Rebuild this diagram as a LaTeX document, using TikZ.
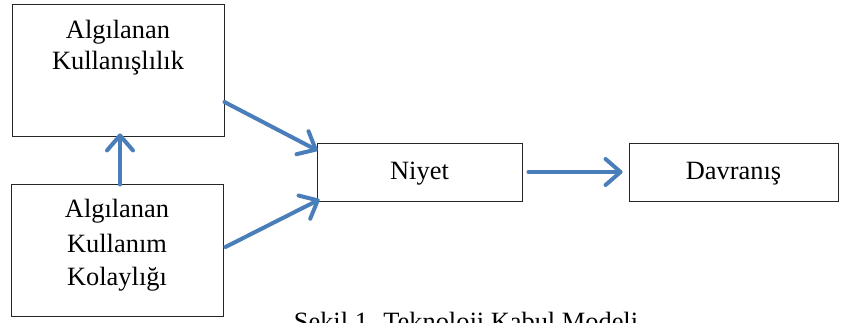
\documentclass[tikz,border=0pt]{standalone}
\usepackage{fontspec}
\setmainfont{Liberation Serif}
\usetikzlibrary{arrows.meta,calc}
\definecolor{flowblue}{HTML}{4A7EBB}
\tikzset{
  box/.style={draw=black!85, line width=0.9pt, minimum width=#1, inner sep=0pt},
  label text/.style={font=\fontsize{26.4}{31}\selectfont, inner sep=0pt, anchor=base},
  flow/.style={draw=flowblue, line width=4pt, line cap=round,
    -{Straight Barb[length=15pt, width=26pt, round]}}
}
\begin{document}
\begin{tikzpicture}[x=1pt, y=-1pt]
\path[use as bounding box, clip] (0,0) rectangle (843,323);
\fill[white] (0,0) rectangle (843,323);

% construct boxes
\node[box=212pt, minimum height=132pt] (pu) at (118,70) {};
\node[box=212pt, minimum height=132pt] (peou) at (117,250) {};
\node[box=205pt, minimum height=58pt] (niyet) at (419.5,172) {};
\node[box=209pt, minimum height=58pt] (davranis) at (733.5,172) {};

% box texts
\node[label text] (pu1) at (118,39) {Algılanan};
\node[label text] (pu2) at (118,70) {Kullanışlılık};
\node[label text] (peou1) at (117,218) {Algılanan};
\node[label text] (peou2) at (117,252) {Kullanım};
\node[label text] (peou3) at (117,285) {Kolaylığı};
\node[label text] (niyett) at (419.5,180) {Niyet};
\node[label text] (davt) at (733.5,180) {Davranış};

% caption, running off the lower edge
\node[label text] (caption) at (466,330) {Şekil 1. Teknoloji Kabul Modeli};

% relations
\draw[flow] ($(pu.east)+(0,32)$) -- ($(niyet.north west)+(1,8)$);
\draw[flow] ($(peou.east)+(2,-3)$) -- ($(niyet.south west)+(3,-2)$);
\draw[flow] ($(peou.north)+(3,1)$) -- ($(pu.south)+(2,-3)$);
\draw[flow] ($(niyet.east)+(6,0)$) -- ($(davranis.west)+(-6,0)$);
\end{tikzpicture}
\end{document}
